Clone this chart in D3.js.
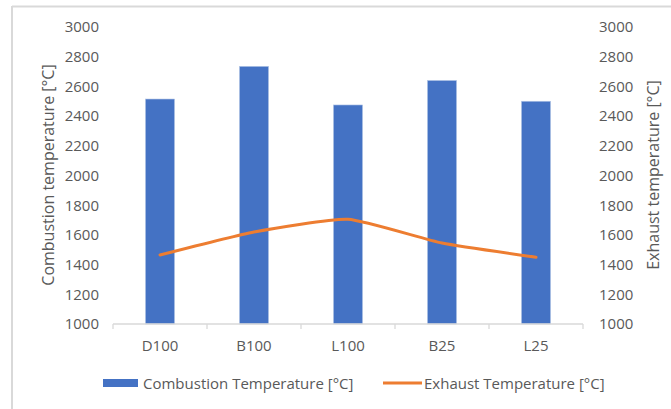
<!DOCTYPE html>
<html>
<head>
<meta charset="utf-8">
<script src="https://cdn.jsdelivr.net/npm/d3@7"></script>
<style>
  body { margin: 0; background: #fff; }
  text { font-family: "Open Sans", "Noto Sans", sans-serif; fill: #595959; }
</style>
</head>
<body>
<svg id="chart" width="671" height="409"></svg>
<script>
var categories = ['D100', 'B100', 'L100', 'B25', 'L25'];
var combustionTemp = [2515, 2735, 2475, 2640, 2500];
var exhaustTemp = [1465, 1620, 1705, 1545, 1450];
var yTicks = [1000, 1200, 1400, 1600, 1800, 2000, 2200, 2400, 2600, 2800, 3000];

var svg = d3.select('#chart');
var plotLeft = 113, plotRight = 583, plotTop = 27, plotBottom = 324;

// chart frame (only top and left edges show in the crop)
svg.append('line').attr('x1', 12).attr('x2', 671).attr('y1', 6.5).attr('y2', 6.5)
    .attr('stroke', '#d9d9d9').attr('stroke-width', 2);
svg.append('line').attr('x1', 12).attr('x2', 12).attr('y1', 6).attr('y2', 409)
    .attr('stroke', '#d9d9d9').attr('stroke-width', 2);

var x = d3.scaleBand().domain(categories).range([plotLeft, plotRight]).paddingInner(0.69).paddingOuter(0.345);
var xb = d3.scaleBand().domain(categories).range([plotLeft, plotRight]);
var yL = d3.scaleLinear().domain([1000, 3000]).range([plotBottom, plotTop]);
var yR = d3.scaleLinear().domain([1000, 3000]).range([plotBottom, plotTop]);

// bars
svg.append('g').selectAll('rect')
    .data(combustionTemp)
    .enter().append('rect')
    .attr('x', function(d, i) { return x(categories[i]); })
    .attr('width', x.bandwidth())
    .attr('y', function(d) { return yL(d); })
    .attr('height', function(d) { return plotBottom - yL(d); })
    .attr('fill', '#4472c4')
    .attr('stroke', '#b4c7e7').attr('stroke-width', 0.6);

// x axis
var xAxis = svg.append('g').attr('transform', 'translate(0,' + plotBottom + ')');
xAxis.append('line').attr('x1', plotLeft).attr('x2', plotRight).attr('stroke', '#d9d9d9').attr('stroke-width', 1.3);
var bounds = categories.map(function(c) { return xb(c); }).concat([plotRight]);
xAxis.selectAll('.tk').data(bounds).enter().append('line')
    .attr('x1', function(d) { return d; }).attr('x2', function(d) { return d; })
    .attr('y1', 0).attr('y2', 5).attr('stroke', '#d9d9d9').attr('stroke-width', 1.3);
xAxis.selectAll('text').data(categories).enter().append('text')
    .attr('x', function(d) { return xb(d) + xb.bandwidth() / 2; })
    .attr('y', 27)
    .attr('text-anchor', 'middle')
    .style('font-size', '15px')
    .text(function(d) { return d; });

// y axes
var gL = svg.append('g').attr('transform', 'translate(99,0)')
    .call(d3.axisLeft(yL).tickValues(yTicks).tickSize(0).tickPadding(0).tickFormat(d3.format('d')));
var gR = svg.append('g').attr('transform', 'translate(599,0)')
    .call(d3.axisRight(yR).tickValues(yTicks).tickSize(0).tickPadding(0).tickFormat(d3.format('d')));
[gL, gR].forEach(function(g) {
    g.select('.domain').remove();
    g.selectAll('text').style('font-size', '15px').attr('fill', '#595959');
});

// exhaust line, mildly smoothed like the original
var line = d3.line()
    .x(function(d, i) { return xb(categories[i]) + xb.bandwidth() / 2; })
    .y(function(d) { return yR(d); })
    .curve(d3.curveCardinal.tension(0.5));
svg.append('path').datum(exhaustTemp)
    .attr('d', line)
    .attr('fill', 'none')
    .attr('stroke', '#ed7d31')
    .attr('stroke-width', 3)
    .attr('stroke-linecap', 'round');

// axis titles
svg.append('text')
    .attr('transform', 'translate(54,175) rotate(-90)')
    .attr('text-anchor', 'middle')
    .style('font-size', '16px')
    .text('Combustion temperature [°C]');
svg.append('text')
    .attr('transform', 'translate(659,175) rotate(-90)')
    .attr('text-anchor', 'middle')
    .style('font-size', '16px')
    .text('Exhaust temperature [°C]');

// legend
var lg = svg.append('g');
lg.append('rect').attr('x', 103).attr('y', 379).attr('width', 35).attr('height', 8).attr('fill', '#4472c4');
lg.append('text').attr('x', 143).attr('y', 388.5).style('font-size', '15px').text('Combustion Temperature [°C]');
lg.append('line').attr('x1', 383).attr('x2', 422).attr('y1', 383).attr('y2', 383)
    .attr('stroke', '#ed7d31').attr('stroke-width', 3);
lg.append('text').attr('x', 424).attr('y', 388.5).style('font-size', '15px').text('Exhaust Temperature [°C]');
</script>
</body>
</html>
